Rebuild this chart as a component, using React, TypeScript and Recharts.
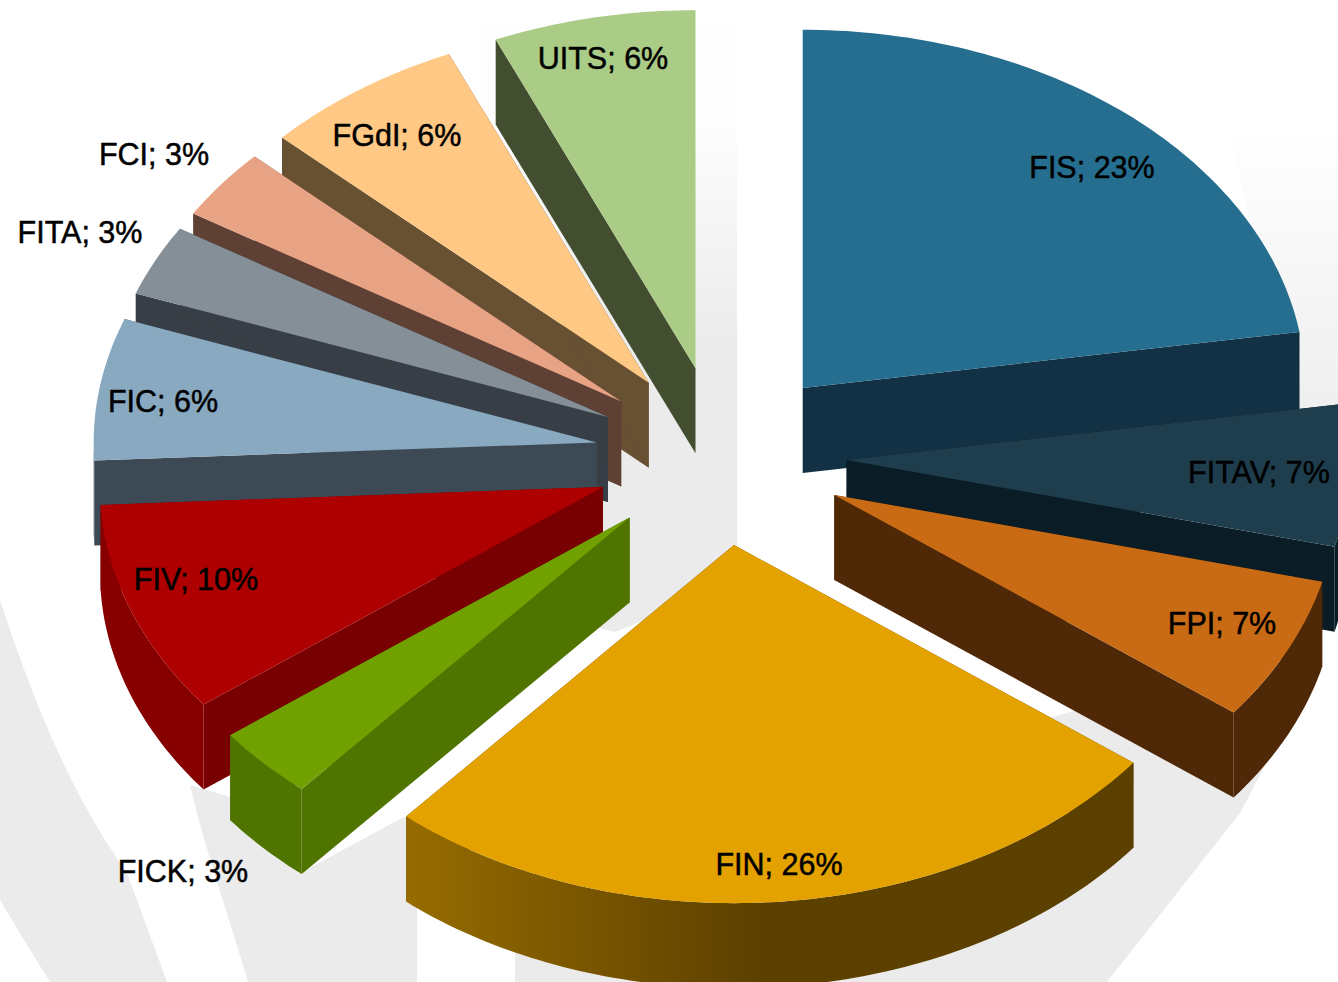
import { Pie, PieChart } from 'recharts';

// slices clockwise from 12 o'clock
const categories = ['FIS', 'FITAV', 'FPI', 'FIN', 'FICK', 'FIV', 'FIC', 'FITA', 'FCI', 'FGdI', 'UITS'];
// share of the circle as drawn, read from the slice edges
const shares = [22.5, 6.4, 6.5, 25.9, 3.3, 9.6, 6.4, 3.2, 3.2, 6.5, 6.5];
// percentages as printed in the labels
const printed = [23, 7, 7, 26, 3, 10, 6, 3, 3, 6, 6];

const topColors = ['#266E8F', '#1E3E4E', '#C96A14', '#E4A200', '#70A100', '#AE0000', '#88A9C0', '#848F98', '#E8A385', '#FFC884', '#ABCC87'];
const wallColors = ['#123144', '#0A1C25', '#4F2907', '#5C4000', '#4F7500', '#780000', '#3D4A55', '#373E45', '#5F4035', '#685033', '#434E30'];
const arcColors = ['#123144', '#0A1C25', '#4F2907', 'url(#finWall)', '#4F7500', '#860000', '#3D4A55', '#373E45', '#5F4035', '#685033', '#434E30'];

// label centre x, baseline y
const labelAnchors: Record<string, [number, number]> = {
  FIS: [1092, 178],
  FITAV: [1259, 483],
  FPI: [1222, 634],
  FIN: [779, 875],
  FICK: [183, 882],
  FIV: [196, 590],
  FIC: [163, 412],
  FITA: [80, 243],
  FCI: [154, 165],
  FGdI: [397, 146],
  UITS: [603, 69],
};

const WIDTH = 1338;
const HEIGHT = 982;
const CX = 721;
const CY = 456;
const RADIUS = 503;
const TILT = 0.712;
const DEPTH = 85;
const EXPLODE = 0.25;

const rows = categories.map((name, i) => ({
  name,
  value: shares[i],
  printed: printed[i],
  top: topColors[i],
  wall: wallColors[i],
  arc: arcColors[i],
}));

// painter's order: right side runs clockwise, left side counter-clockwise, both starting at the back
const rightRows = rows.slice(0, 4);
const leftRows = rows.slice(4).reverse();
const total = shares.reduce((a, b) => a + b, 0);
const sweep = (list: typeof rows) => (360 * list.reduce((a, r) => a + r.value, 0)) / total;

type Pt = [number, number];
const toPath = (pts: Pt[]) => `M${pts.map((p) => `${p[0].toFixed(1)},${p[1].toFixed(1)}`).join('L')}Z`;

function Slice3D(props: any) {
  const { cx, cy, outerRadius, startAngle, endAngle } = props;
  const row = props.payload ?? props;
  // clockwise degrees from north, kept in 0..360
  let a = 90 - Math.max(startAngle, endAngle);
  let b = 90 - Math.min(startAngle, endAngle);
  if (a < 0) {
    a += 360;
    b += 360;
  }
  const project = (deg: number, r: number, ox = 0, oy = 0): Pt => {
    const t = (deg * Math.PI) / 180;
    return [cx + ox + r * Math.sin(t), cy + oy - r * TILT * Math.cos(t)];
  };
  const mid = (a + b) / 2;
  const [ax, ay] = project(mid, outerRadius * EXPLODE);
  const ox = ax - cx;
  const oy = ay - cy;
  const down = (p: Pt): Pt => [p[0], p[1] + DEPTH];
  const apex: Pt = [ax, ay];

  const arc = (from: number, to: number) => {
    const pts: Pt[] = [];
    const n = Math.max(2, Math.ceil(to - from));
    for (let i = 0; i <= n; i++) pts.push(project(from + ((to - from) * i) / n, outerRadius, ox, oy));
    return pts;
  };

  const edge = arc(a, b);
  const first = edge[0];
  const last = edge[edge.length - 1];
  const frontFrom = Math.max(a, 90);
  const frontTo = Math.min(b, 270);
  const front = frontTo > frontFrom ? arc(frontFrom, frontTo) : [];

  return (
    <g>
      <path d={toPath([apex, first, down(first), down(apex)])} fill={row.wall} />
      <path d={toPath([apex, last, down(last), down(apex)])} fill={row.wall} />
      {front.length > 0 && <path d={toPath([...front, ...front.map(down).reverse()])} fill={row.arc} />}
      <path d={toPath([apex, ...edge])} fill={row.top} />
    </g>
  );
}

function SliceLabel(props: any) {
  const row = props.payload ?? props;
  const [x, y] = labelAnchors[row.name];
  return (
    <text
      x={x}
      y={y}
      textAnchor="middle"
      fontFamily="'Liberation Sans', Arial, sans-serif"
      fontSize={30.5}
      fill="#000"
      stroke="#000"
      strokeWidth={0.5}
    >
      {`${row.name}; ${row.printed}%`}
    </text>
  );
}

function Backdrop() {
  return (
    <svg width={WIDTH} height={HEIGHT} style={{ position: 'absolute', left: 0, top: 0 }}>
      <defs>
        <linearGradient id="fadeDown" x1="0" y1="0" x2="0" y2="1">
          <stop offset="0%" stopColor="#ffffff" />
          <stop offset="20%" stopColor="#fdfdfd" />
          <stop offset="55%" stopColor="#ebebeb" />
          <stop offset="100%" stopColor="#ebebeb" />
        </linearGradient>
        <linearGradient id="fadeRight" x1="0" y1="0" x2="0" y2="1">
          <stop offset="0%" stopColor="#ffffff" />
          <stop offset="100%" stopColor="#eeeeee" />
        </linearGradient>
      </defs>
      <path d="M480,0 L737,0 L737,545 L650,618 L615,632 L480,600 Z" fill="url(#fadeDown)" />
      <path d="M1060,715 L1240,660 L1300,700 L1240,813 L1107,982 L515,982 L515,880 Z" fill="#ebebeb" />
      <path d="M1230,130 L1338,130 L1338,420 L1290,420 Z" fill="url(#fadeRight)" />
      <path d="M190,785 C205,850 230,920 248,982 L417,982 L417,830 L404,817 L300,873 L240,800 Z" fill="#ebebeb" />
      <path d="M0,600 C20,660 60,780 127,873 L167,982 L50,982 C30,950 15,925 0,900 Z" fill="#ebebeb" />
    </svg>
  );
}

export default function App() {
  return (
    <div style={{ position: 'absolute', left: 0, top: 0, width: WIDTH, height: HEIGHT, overflow: 'hidden', background: '#fff' }}>
      <Backdrop />
      <div style={{ position: 'absolute', left: 0, top: 0 }}>
        <PieChart width={WIDTH} height={HEIGHT} margin={{ top: 0, right: 0, bottom: 0, left: 0 }}>
          <defs>
            <linearGradient id="finWall" gradientUnits="userSpaceOnUse" x1="404" y1="0" x2="760" y2="0">
              <stop offset="0%" stopColor="#976C00" />
              <stop offset="100%" stopColor="#5C4000" />
            </linearGradient>
          </defs>
          <Pie
            data={leftRows}
            dataKey="value"
            nameKey="name"
            cx={CX}
            cy={CY}
            outerRadius={RADIUS}
            startAngle={90}
            endAngle={90 + sweep(leftRows)}
            shape={Slice3D}
            label={SliceLabel}
            labelLine={false}
            isAnimationActive={false}
          />
          <Pie
            data={rightRows}
            dataKey="value"
            nameKey="name"
            cx={CX}
            cy={CY}
            outerRadius={RADIUS}
            startAngle={90}
            endAngle={90 - sweep(rightRows)}
            shape={Slice3D}
            label={SliceLabel}
            labelLine={false}
            isAnimationActive={false}
          />
        </PieChart>
      </div>
    </div>
  );
}
